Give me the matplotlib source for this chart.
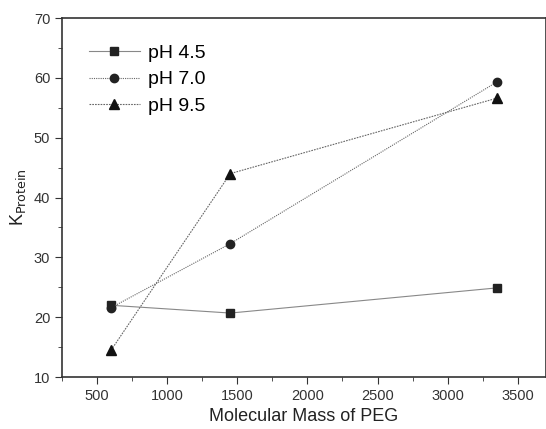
import matplotlib
matplotlib.use('Agg')
import matplotlib.pyplot as plt
from matplotlib.ticker import MultipleLocator

plt.rcParams['font.family'] = ['Liberation Sans', 'DejaVu Sans']

peg_mass = [600, 1450, 3350]
k_ph45 = [22.0, 20.7, 24.9]
k_ph70 = [21.6, 32.3, 59.3]
k_ph95 = [14.5, 44.0, 56.6]

fig = plt.figure(figsize=(5.46, 4.29), dpi=100)
ax = fig.add_axes([0.1136, 0.121, 0.886, 0.837])

ax.plot(peg_mass, k_ph45, color='#888888', lw=0.8, ls='-',
        marker='s', ms=5.5, mfc='#222222', mec='#222222', label='pH 4.5')
ax.plot(peg_mass, k_ph70, color='#666666', lw=0.8, ls=(0, (1, 1)),
        marker='o', ms=6, mfc='#222222', mec='#222222', label='pH 7.0')
ax.plot(peg_mass, k_ph95, color='#666666', lw=0.8, ls=(0, (1.5, 1)),
        marker='^', ms=7, mfc='#111111', mec='#111111', label='pH 9.5')

ax.set_xlim(250, 3700)
ax.set_ylim(10, 70)
ax.xaxis.set_major_locator(MultipleLocator(500))
ax.xaxis.set_minor_locator(MultipleLocator(250))
ax.yaxis.set_major_locator(MultipleLocator(10))
ax.yaxis.set_minor_locator(MultipleLocator(5))
ax.tick_params(which='major', direction='out', length=5, labelsize=10.5, colors='#333333')
ax.tick_params(which='minor', direction='out', length=3, color='#333333')
for s in ax.spines.values():
    s.set_color('#333333')
    s.set_linewidth(1.2)

ax.set_xlabel('Molecular Mass of PEG', fontsize=13, color='#222222')
ax.set_ylabel('K$_{\\mathrm{Protein}}$', fontsize=13, color='#222222')

ax.legend(loc='upper left', bbox_to_anchor=(0.02, 0.975), frameon=False,
          fontsize=14, handlelength=2.6, handletextpad=0.4, labelspacing=0.45)

fig.savefig('out.png', dpi=100)
